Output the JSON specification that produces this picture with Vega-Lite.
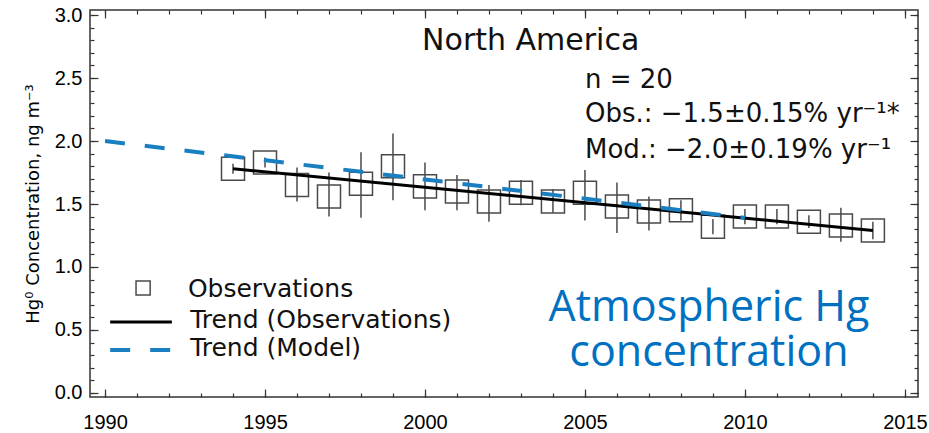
{
  "$schema": "https://vega.github.io/schema/vega-lite/v6.json",
  "width": 828,
  "height": 387,
  "autosize": {"type": "none"},
  "padding": {"left": 90, "top": 10, "right": 11, "bottom": 36},
  "background": "white",
  "config": {
    "view": {"stroke": "#333", "strokeWidth": 1.5},
    "axis": {"grid": false, "domain": false, "tickColor": "#333", "tickWidth": 1.2, "labelFont": "Liberation Sans", "labelFontSize": 20, "labelColor": "#000", "titleFont": "DejaVu Sans", "titleColor": "#000"}
  },
  "datasets": {
    "obs": [
      {"year": 1994, "conc": 1.78, "lo": 1.74, "hi": 1.82},
      {"year": 1995, "conc": 1.83, "lo": 1.79, "hi": 1.87},
      {"year": 1996, "conc": 1.65, "lo": 1.52, "hi": 1.79},
      {"year": 1997, "conc": 1.56, "lo": 1.40, "hi": 1.75},
      {"year": 1998, "conc": 1.66, "lo": 1.39, "hi": 1.91},
      {"year": 1999, "conc": 1.80, "lo": 1.53, "hi": 2.06},
      {"year": 2000, "conc": 1.64, "lo": 1.45, "hi": 1.83},
      {"year": 2001, "conc": 1.60, "lo": 1.45, "hi": 1.73},
      {"year": 2002, "conc": 1.52, "lo": 1.36, "hi": 1.65},
      {"year": 2003, "conc": 1.59, "lo": 1.49, "hi": 1.69},
      {"year": 2004, "conc": 1.52, "lo": 1.43, "hi": 1.62},
      {"year": 2005, "conc": 1.59, "lo": 1.37, "hi": 1.77},
      {"year": 2006, "conc": 1.48, "lo": 1.27, "hi": 1.67},
      {"year": 2007, "conc": 1.44, "lo": 1.29, "hi": 1.56},
      {"year": 2008, "conc": 1.45, "lo": 1.37, "hi": 1.53},
      {"year": 2009, "conc": 1.32, "lo": 1.26, "hi": 1.38},
      {"year": 2010, "conc": 1.40, "lo": 1.34, "hi": 1.46},
      {"year": 2011, "conc": 1.40, "lo": 1.34, "hi": 1.46},
      {"year": 2012, "conc": 1.36, "lo": 1.31, "hi": 1.41},
      {"year": 2013, "conc": 1.33, "lo": 1.20, "hi": 1.47},
      {"year": 2014, "conc": 1.29, "lo": 1.22, "hi": 1.36}
    ],
    "trendObs": [
      {"year": 1994, "conc": 1.78},
      {"year": 2014, "conc": 1.29}
    ],
    "trendMod": [
      {"year": 1990, "conc": 2.0},
      {"year": 2010, "conc": 1.39}
    ],
    "one": [{"k": 1}]
  },
  "resolve": {"axis": {"x": "independent", "y": "independent"}},
  "layer": [
    {
      "data": {"name": "obs"},
      "mark": {"type": "rule", "color": "#4a4a4a", "strokeWidth": 1.5},
      "encoding": {
        "x": {"field": "year", "type": "quantitative", "scale": {"domain": [1989.53, 2015.41], "nice": false, "zero": false},
          "axis": {"orient": "bottom", "values": [1990,1991,1992,1993,1994,1995,1996,1997,1998,1999,2000,2001,2002,2003,2004,2005,2006,2007,2008,2009,2010,2011,2012,2013,2014,2015], "tickSize": -4, "labels": false, "title": null}},
        "y": {"field": "lo", "type": "quantitative", "scale": {"domain": [-0.032, 3.04], "nice": false, "zero": false},
          "axis": {"orient": "left", "values": [0,0.1,0.2,0.3,0.4,0.5,0.6,0.7,0.8,0.9,1.0,1.1,1.2,1.3,1.4,1.5,1.6,1.7,1.8,1.9,2.0,2.1,2.2,2.3,2.4,2.5,2.6,2.7,2.8,2.9,3.0], "tickSize": -4, "labels": false, "title": null}},
        "y2": {"field": "hi"}
      }
    },
    {
      "data": {"name": "obs"},
      "mark": {"type": "point", "shape": "square", "filled": false, "size": 530, "stroke": "#4a4a4a", "strokeWidth": 1.5, "opacity": 1},
      "encoding": {
        "x": {"field": "year", "type": "quantitative", "scale": {"domain": [1989.53, 2015.41], "nice": false, "zero": false},
          "axis": {"orient": "bottom", "values": [1990,1995,2000,2005,2010,2015], "tickSize": -8, "labelPadding": 23, "format": "d", "title": null}},
        "y": {"field": "conc", "type": "quantitative", "scale": {"domain": [-0.032, 3.04], "nice": false, "zero": false},
          "axis": {"orient": "left", "values": [0,0.5,1.0,1.5,2.0,2.5,3.0], "tickSize": -8, "labelPadding": 16, "format": ".1f", "title": "Hg⁰ Concentration, ng m⁻³", "titleFontSize": 18, "titleFontWeight": "normal", "titlePadding": 12}}
      }
    },
    {
      "data": {"name": "trendObs"},
      "mark": {"type": "line", "color": "black", "strokeWidth": 3},
      "encoding": {
        "x": {"field": "year", "type": "quantitative", "scale": {"domain": [1989.53, 2015.41], "nice": false, "zero": false},
          "axis": {"orient": "top", "values": [1990,1995,2000,2005,2010,2015], "tickSize": -8, "labels": false, "title": null}},
        "y": {"field": "conc", "type": "quantitative", "scale": {"domain": [-0.032, 3.04], "nice": false, "zero": false},
          "axis": {"orient": "right", "values": [0,0.5,1.0,1.5,2.0,2.5,3.0], "tickSize": -8, "labels": false, "title": null}}
      }
    },
    {
      "data": {"name": "trendMod"},
      "mark": {"type": "line", "color": "#1a7fc1", "strokeWidth": 4, "strokeDash": [20, 20]},
      "encoding": {
        "x": {"field": "year", "type": "quantitative", "scale": {"domain": [1989.53, 2015.41], "nice": false, "zero": false},
          "axis": {"orient": "top", "values": [1990,1991,1992,1993,1994,1995,1996,1997,1998,1999,2000,2001,2002,2003,2004,2005,2006,2007,2008,2009,2010,2011,2012,2013,2014,2015], "tickSize": -4, "labels": false, "title": null}},
        "y": {"field": "conc", "type": "quantitative", "scale": {"domain": [-0.032, 3.04], "nice": false, "zero": false},
          "axis": {"orient": "right", "values": [0,0.1,0.2,0.3,0.4,0.5,0.6,0.7,0.8,0.9,1.0,1.1,1.2,1.3,1.4,1.5,1.6,1.7,1.8,1.9,2.0,2.1,2.2,2.3,2.4,2.5,2.6,2.7,2.8,2.9,3.0], "tickSize": -4, "labels": false, "title": null}}
      }
    },
    {
      "data": {"name": "one"},
      "mark": {"type": "text", "font": "DejaVu Sans", "fontSize": 30, "align": "left", "baseline": "alphabetic", "color": "#111"},
      "encoding": {"x": {"datum": 1999.91, "type": "quantitative", "axis": null}, "y": {"datum": 2.72, "type": "quantitative", "axis": null}, "text": {"value": "North America"}}
    },
    {
      "data": {"name": "one"},
      "mark": {"type": "text", "font": "DejaVu Sans", "fontSize": 26, "align": "left", "baseline": "alphabetic", "color": "#111"},
      "encoding": {"x": {"datum": 2005.0, "type": "quantitative", "axis": null}, "y": {"datum": 2.42, "type": "quantitative", "axis": null}, "text": {"value": "n = 20"}}
    },
    {
      "data": {"name": "one"},
      "mark": {"type": "text", "font": "DejaVu Sans", "fontSize": 26, "align": "left", "baseline": "alphabetic", "color": "#111"},
      "encoding": {"x": {"datum": 2005.0, "type": "quantitative", "axis": null}, "y": {"datum": 2.15, "type": "quantitative", "axis": null}, "text": {"value": "Obs.: −1.5±0.15% yr⁻¹*"}}
    },
    {
      "data": {"name": "one"},
      "mark": {"type": "text", "font": "DejaVu Sans", "fontSize": 26, "align": "left", "baseline": "alphabetic", "color": "#111"},
      "encoding": {"x": {"datum": 2005.0, "type": "quantitative", "axis": null}, "y": {"datum": 1.865, "type": "quantitative", "axis": null}, "text": {"value": "Mod.: −2.0±0.19% yr⁻¹"}}
    },
    {
      "data": {"name": "one"},
      "mark": {"type": "point", "shape": "square", "filled": false, "size": 200, "stroke": "#4a4a4a", "strokeWidth": 1.5, "opacity": 1},
      "encoding": {"x": {"datum": 1991.19, "type": "quantitative", "axis": null}, "y": {"datum": 0.833, "type": "quantitative", "axis": null}}
    },
    {
      "data": {"name": "one"},
      "mark": {"type": "rule", "color": "black", "strokeWidth": 3},
      "encoding": {"x": {"datum": 1990.16, "type": "quantitative", "axis": null}, "x2": {"datum": 1992.09}, "y": {"datum": 0.563, "type": "quantitative", "axis": null}}
    },
    {
      "data": {"name": "one"},
      "mark": {"type": "rule", "color": "#1a7fc1", "strokeWidth": 4, "strokeDash": [20, 20]},
      "encoding": {"x": {"datum": 1990.16, "type": "quantitative", "axis": null}, "x2": {"datum": 1992.09}, "y": {"datum": 0.341, "type": "quantitative", "axis": null}}
    },
    {
      "data": {"name": "one"},
      "mark": {"type": "text", "font": "DejaVu Sans", "fontSize": 25, "align": "left", "baseline": "middle", "color": "#111"},
      "encoding": {"x": {"datum": 1992.59, "type": "quantitative", "axis": null}, "y": {"datum": 0.825, "type": "quantitative", "axis": null}, "text": {"value": "Observations"}}
    },
    {
      "data": {"name": "one"},
      "mark": {"type": "text", "font": "DejaVu Sans", "fontSize": 25, "align": "left", "baseline": "middle", "color": "#111"},
      "encoding": {"x": {"datum": 1992.66, "type": "quantitative", "axis": null}, "y": {"datum": 0.579, "type": "quantitative", "axis": null}, "text": {"value": "Trend (Observations)"}}
    },
    {
      "data": {"name": "one"},
      "mark": {"type": "text", "font": "DejaVu Sans", "fontSize": 25, "align": "left", "baseline": "middle", "color": "#111"},
      "encoding": {"x": {"datum": 1992.66, "type": "quantitative", "axis": null}, "y": {"datum": 0.357, "type": "quantitative", "axis": null}, "text": {"value": "Trend (Model)"}}
    },
    {
      "data": {"name": "one"},
      "mark": {"type": "text", "font": "Open Sans", "fontSize": 43, "lineHeight": 45, "align": "center", "baseline": "alphabetic", "color": "#0070c0"},
      "encoding": {"x": {"datum": 2008.875, "type": "quantitative", "axis": null}, "y": {"datum": 0.57, "type": "quantitative", "axis": null}, "text": {"value": ["Atmospheric Hg", "concentration"]}}
    }
  ]
}
